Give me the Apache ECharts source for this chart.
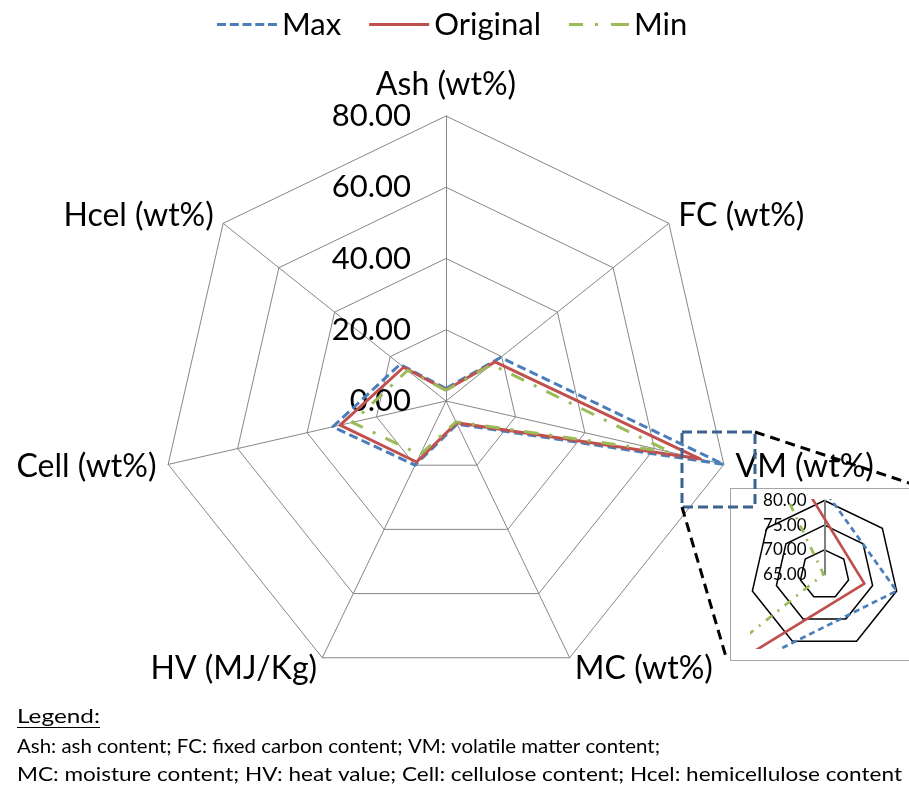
<!DOCTYPE html>
<html><head><meta charset="utf-8">
<script src="https://cdn.jsdelivr.net/npm/echarts@6/dist/echarts.min.js"></script>
<style>
html,body{margin:0;padding:0;background:#fff;overflow:hidden;width:909px;height:787px;}
#insetBox{position:absolute;left:730px;top:488px;width:180px;height:171px;border:1px solid #a6a6a6;border-right:none;background:#fff;z-index:1;}
#insetAxes{position:absolute;left:731px;top:489px;width:178px;height:171px;z-index:2;}
#insetLines{position:absolute;left:750px;top:499px;width:159px;height:150px;z-index:3;overflow:hidden;}
#main{position:absolute;left:0;top:0;width:909px;height:787px;z-index:4;}
</style></head><body>
<div id="insetBox"></div><div id="insetAxes"></div><div id="insetLines"></div><div id="main"></div>
<script>
// ---- data ----
const axes = ['Ash (wt%)', 'FC (wt%)', 'VM (wt%)', 'MC (wt%)', 'HV (MJ/Kg)', 'Cell (wt%)', 'Hcel (wt%)'];
const seriesNames = ['Max', 'Original', 'Min'];
const maxValues = [3.5, 19.6, 80.0, 7.2, 20.0, 32.6, 16.5];
const originalValues = [3.1, 17.6, 73.3, 6.8, 19.0, 30.5, 15.2];
const minValues = [3.0, 16.4, 64.8, 6.5, 16.7, 27.0, 13.8];
const mainTickLabels = ['0.00', '20.00', '40.00', '60.00', '80.00'];
const insetTickLabels = ['65.00', '70.00', '75.00', '80.00'];
const noteLines = [
  'Legend:',
  'Ash: ash content; FC: fixed carbon content; VM: volatile matter content;',
  'MC: moisture content; HV: heat value; Cell: cellulose content; Hcel: hemicellulose content'
];

// ECharts radar runs counter-clockwise; reorder so the picture runs clockwise
const order = [0, 6, 5, 4, 3, 2, 1];
const ord = arr => order.map(i => arr[i]);
const FONT = 'Lato';
const colors = { Max: '#4a7ebb', Original: '#c0504d', Min: '#9bbb59' };
const allValues = { Max: maxValues, Original: originalValues, Min: minValues };

function seriesData(widthScale, dashes) {
  return seriesNames.map(n => ({
    name: n,
    value: ord(allValues[n]),
    symbol: 'none',
    itemStyle: { color: colors[n] },
    lineStyle: { color: colors[n], width: 3 * widthScale, type: dashes[n] }
  }));
}

const legendIcons = {
  Max: 'path://M0,0h9v3h-9z M12.75,0h9v3h-9z M25.5,0h9v3h-9z M38.25,0h9v3h-9z M51,0h9v3h-9z',
  Original: 'path://M0,0h60v3h-60z',
  Min: 'path://M0,0h14v3h-14z M26,0h3v3h-3z M42,0h18v3h-18z'
};

// note text: stretched horizontally like the reference
const NOTE_FONT = '19px ' + FONT;
const mctx = document.createElement('canvas').getContext('2d');
mctx.font = NOTE_FONT;
const noteSpecs = [
  { y: 717, width: 83 },
  { y: 747, width: 643 },
  { y: 775, width: 885 }
];
const noteGraphics = noteLines.map((t, k) => ({
  type: 'text', x: 17, y: noteSpecs[k].y,
  scaleX: noteSpecs[k].width / mctx.measureText(t).width,
  style: { text: t, font: NOTE_FONT, fill: '#000', textVerticalAlign: 'middle' }
}));

// ---- main chart ----
const main = echarts.init(document.getElementById('main'), null, { renderer: 'canvas' });
main.setOption({
  animation: false,
  backgroundColor: 'transparent',
  textStyle: { fontFamily: FONT },
  legend: {
    top: 4, left: 212, itemWidth: 60, itemHeight: 3, itemGap: 28,
    textStyle: { fontSize: 31, fontFamily: FONT, color: '#000' },
    itemStyle: { borderWidth: 0 },
    data: seriesNames.map(n => ({ name: n, icon: legendIcons[n], itemStyle: { color: colors[n] } }))
  },
  radar: {
    center: [446, 401], radius: 285, shape: 'polygon', splitNumber: 4,
    nameGap: 12,
    axisName: { color: '#000', fontSize: 32, fontFamily: FONT },
    splitLine: { lineStyle: { color: '#868686', width: 1 } },
    splitArea: { show: false },
    axisLine: { lineStyle: { color: '#868686', width: 1 } },
    axisTick: { show: false },
    axisLabel: {
      show: false, fontSize: 31, fontFamily: FONT, color: '#000', margin: 35,
      formatter: v => mainTickLabels[Math.round(v / 20)]
    },
    indicator: order.map(i => ({ name: axes[i], min: 0, max: 80, axisLabel: { show: i === 0 } }))
  },
  series: [{
    type: 'radar', z: 3,
    data: seriesData(1, { Max: [9, 4.5], Original: 'solid', Min: [14, 11, 3, 11] })
  }],
  graphic: [
    { type: 'rect', z: 100, shape: { x: 682, y: 432, width: 73, height: 75 },
      style: { fill: null, stroke: '#3b6290', lineWidth: 3, lineDash: [10, 5] } },
    { type: 'line', z: 100, shape: { x1: 755, y1: 432, x2: 912, y2: 484 },
      style: { stroke: '#000', lineWidth: 3, lineDash: [10, 6] } },
    { type: 'line', z: 100, shape: { x1: 682, y1: 507, x2: 726, y2: 657 },
      style: { stroke: '#000', lineWidth: 3, lineDash: [10, 6] } },
    { type: 'line', shape: { x1: 17, y1: 727.5, x2: 100, y2: 727.5 }, style: { stroke: '#000', lineWidth: 1 } }
  ].concat(noteGraphics)
});

// ---- inset (zoom on VM, scale 65-80): rings and labels ----
const insetRadarBase = {
  radius: 74, shape: 'polygon', splitNumber: 3,
  axisName: { show: false },
  splitArea: { show: false },
  axisTick: { show: false }
};
const insetAxes = echarts.init(document.getElementById('insetAxes'), null, { renderer: 'canvas' });
insetAxes.setOption({
  animation: false,
  backgroundColor: 'transparent',
  radar: Object.assign({}, insetRadarBase, {
    center: [93.5, 85.5],
    splitLine: { lineStyle: { color: '#000', width: 1.5 } },
    axisLine: { lineStyle: { color: '#b0b0b0', width: 1 } },
    axisLabel: {
      show: false, fontSize: 17, fontFamily: FONT, color: '#000', margin: 18,
      formatter: v => insetTickLabels[Math.round((v - 65) / 5)]
    },
    indicator: order.map(i => ({
      name: axes[i], min: 65, max: 80,
      axisLabel: { show: i === 0 },
      axisLine: i === 0 ? { lineStyle: { color: '#808080', width: 2 } } : undefined
    }))
  })
});

// ---- inset: series, clipped to the plot area ----
const insetLines = echarts.init(document.getElementById('insetLines'), null, { renderer: 'canvas' });
insetLines.setOption({
  animation: false,
  backgroundColor: 'transparent',
  radar: Object.assign({}, insetRadarBase, {
    center: [74.5, 75.5],
    splitLine: { show: false },
    axisLine: { show: false },
    axisLabel: { show: false },
    indicator: order.map(i => ({ name: axes[i], min: 65, max: 80 }))
  }),
  series: [{
    type: 'radar',
    data: seriesData(0.9, { Max: [6, 4], Original: 'solid', Min: [8, 7, 2, 7] })
  }]
});
</script>
</body></html>
